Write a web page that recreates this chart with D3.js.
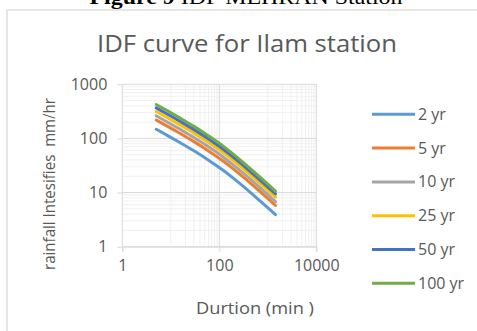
<!DOCTYPE html>
<html><head><meta charset="utf-8">
<script src="https://cdn.jsdelivr.net/npm/d3@7"></script>
<style>
html,body{margin:0;padding:0;background:#fff;overflow:hidden;}
text{font-family:"Open Sans",sans-serif;fill:#595959;}
</style></head>
<body>
<svg id="c" width="477" height="331"></svg>
<script>
const durations = [5, 10, 15, 30, 60, 120, 180, 360, 720, 1440];
const seriesNames = ["2 yr", "5 yr", "10 yr", "25 yr", "50 yr", "100 yr"];
const yr2   = [148, 104.7, 85.1, 59, 39.7, 25.8, 19.5, 11.7, 6.8, 3.91];
const yr5   = [219, 155, 126, 87.3, 58.8, 38.2, 28.9, 17.3, 10.1, 5.8];
const yr10  = [262, 185, 150, 104, 70, 45.5, 34.3, 20.5, 11.9, 6.8];
const yr25  = [314, 222, 180, 125, 84, 54.6, 41.2, 24.6, 14.3, 8.2];
const yr50  = [367, 259, 210, 145.5, 97.6, 63.3, 47.7, 28.4, 16.5, 9.45];
const yr100 = [423, 299, 242, 167, 111.5, 72, 54, 32, 18.6, 10.6];
const xTickLabels = [1, 100, 10000];
const yTickLabels = [1, 10, 100, 1000];
const colors = ["#5B9BD5", "#ED7D31", "#A5A5A5", "#FFC000", "#4472C4", "#70AD47"];

const allSeries = [yr2, yr5, yr10, yr25, yr50, yr100];
const svg = d3.select("#c");

// figure caption (cut off at top, as in the source image)
const cap = svg.append("text").attr("x", 246).attr("y", 4).attr("text-anchor", "middle")
  .style("font-family", "'Liberation Serif',serif").style("font-size", "22px").style("fill", "#000")
  .attr("textLength", 313).attr("lengthAdjust", "spacingAndGlyphs");
cap.append("tspan").style("font-weight", "bold").text("Figure 9 ");
cap.append("tspan").text("IDF MEHRAN Station");

// chart area border
svg.append("rect").attr("x", 7).attr("y", 10).attr("width", 480).attr("height", 340)
  .attr("fill", "none").attr("stroke", "#D9D9D9").attr("stroke-width", 1.3);

const x = d3.scaleLog().domain([1, 10000]).range([122.3, 316.3]);
const y = d3.scaleLog().domain([1, 1000]).range([246.7, 84.3]);

// minor gridlines
const yMinor = [];
[1, 10, 100].forEach(p => { for (let k = 2; k <= 9; k++) yMinor.push(k * p); });
const xMinor = [];
[1, 100].forEach(p => { for (let k = 1; k <= 9; k++) xMinor.push(10 * k * p); });

const g = svg.append("g");
g.selectAll(".ym").data(yMinor).join("line")
  .attr("x1", x(1)).attr("x2", x(10000)).attr("y1", d => y(d)).attr("y2", d => y(d))
  .attr("stroke", "#F0F0F0").attr("stroke-width", 1);
g.selectAll(".xm").data(xMinor).join("line")
  .attr("y1", y(1)).attr("y2", y(1000)).attr("x1", d => x(d)).attr("x2", d => x(d))
  .attr("stroke", "#F0F0F0").attr("stroke-width", 1);
// major gridlines
g.selectAll(".yM").data(yTickLabels).join("line")
  .attr("x1", x(1)).attr("x2", x(10000)).attr("y1", d => y(d)).attr("y2", d => y(d))
  .attr("stroke", "#D9D9D9").attr("stroke-width", 1);
g.selectAll(".xM").data(xTickLabels).join("line")
  .attr("y1", y(1)).attr("y2", y(1000)).attr("x1", d => x(d)).attr("x2", d => x(d))
  .attr("stroke", "#D9D9D9").attr("stroke-width", 1);

// axes
const xAxis = d3.axisBottom(x).tickValues(xTickLabels).tickFormat(d3.format("d")).tickSize(5).tickPadding(8);
const yAxis = d3.axisLeft(y).tickValues(yTickLabels).tickFormat(d3.format("d")).tickSize(5).tickPadding(10);
const gx = svg.append("g").attr("transform", `translate(0,${y(1)})`).call(xAxis);
const gy = svg.append("g").attr("transform", `translate(${x(1)},0)`).call(yAxis);
[gx, gy].forEach(a => {
  a.select(".domain").attr("stroke", "#D9D9D9");
  a.selectAll(".tick line").attr("stroke", "#D9D9D9");
  a.selectAll(".tick text").style("font-size", "16px").style("fill", "#595959").style("font-family", "'Open Sans',sans-serif");
});
gy.select(".domain").remove();

// series
const line = d3.line().x((d, i) => x(durations[i])).y(d => y(d)).curve(d3.curveMonotoneX);
svg.append("g").selectAll("path").data(allSeries).join("path")
  .attr("d", d => line(d)).attr("fill", "none")
  .attr("stroke", (d, i) => colors[i]).attr("stroke-width", 3).attr("stroke-linecap", "round");

// title
svg.append("text").attr("x", 247).attr("y", 52).attr("text-anchor", "middle")
  .style("font-size", "24px").attr("textLength", 300).attr("lengthAdjust", "spacingAndGlyphs")
  .text("IDF curve for Ilam station");

// axis titles
svg.append("text").attr("x", 255).attr("y", 314).attr("text-anchor", "middle")
  .style("font-size", "16px").attr("textLength", 118).attr("lengthAdjust", "spacingAndGlyphs")
  .text("Durtion (min )");
svg.append("text").attr("transform", "translate(55,184) rotate(-90)").attr("text-anchor", "middle")
  .style("font-size", "16px").style("white-space", "pre").attr("xml:space", "preserve")
  .attr("textLength", 172).attr("lengthAdjust", "spacingAndGlyphs")
  .text("rainfall Intesifies  mm/hr");

// legend
const leg = svg.append("g").selectAll("g").data(seriesNames).join("g")
  .attr("transform", (d, i) => `translate(372,${114.3 + i * 33.8})`);
leg.append("line").attr("x1", 0).attr("x2", 43).attr("stroke", (d, i) => colors[i]).attr("stroke-width", 3);
leg.append("text").attr("x", 46).attr("y", 5.5).style("font-size", "16px").text(d => d);
</script>
</body></html>
